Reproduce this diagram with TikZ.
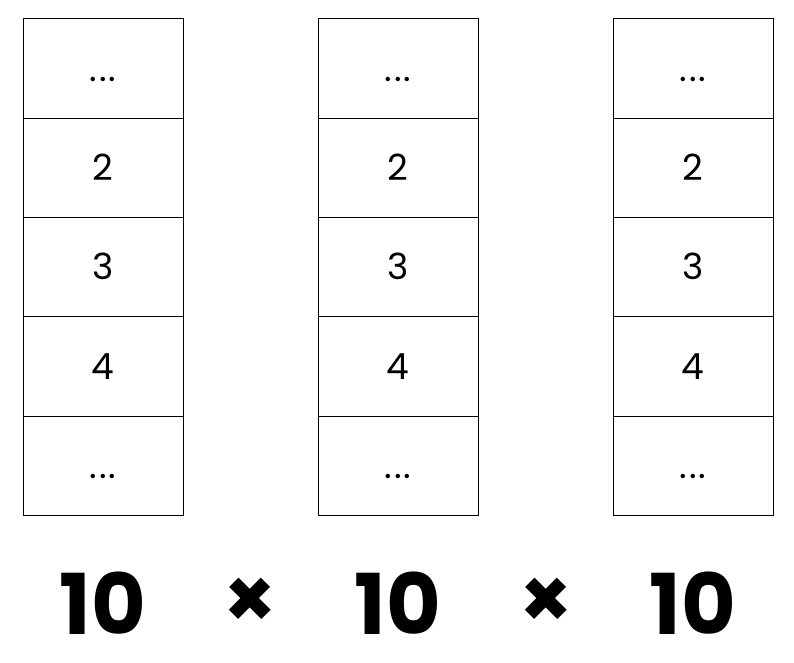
\documentclass[tikz,border=0pt]{standalone}
\usepackage{fontspec}
\setmainfont{Poppins}
\usetikzlibrary{positioning}

\newcommand{\celldots}{.\hspace{1.5pt}.\hspace{1.5pt}.}

\begin{document}
\begin{tikzpicture}[
    x=0.75pt, y=-0.75pt,
    cell/.style={draw, line width=0.75pt, outer sep=0pt, minimum width=120pt, minimum height=74.5pt, inner sep=0pt, text height=19pt, text depth=0pt, font=\fontsize{27}{30}\selectfont},
    big/.style={font=\fontsize{63}{70}\selectfont\bfseries, inner sep=0pt},
]
\useasboundingbox (0,0) rectangle (794,662);

\foreach \c/\x in {1/103, 2/398, 3/693} {
    \node[cell] (c\c r1) at (\x,68.5) {\celldots};
    \node[cell, below=0pt of c\c r1] (c\c r2) {2};
    \node[cell, below=0pt of c\c r2] (c\c r3) {3};
    \node[cell, below=0pt of c\c r3] (c\c r4) {4};
    \node[cell, below=0pt of c\c r4] (c\c r5) {\celldots};
    \node[big] (n\c) at (\x,603) {10};
}

\node[big] (t1) at (250,603) {×};
\node[big] (t2) at (546,603) {×};

\end{tikzpicture}
\end{document}
